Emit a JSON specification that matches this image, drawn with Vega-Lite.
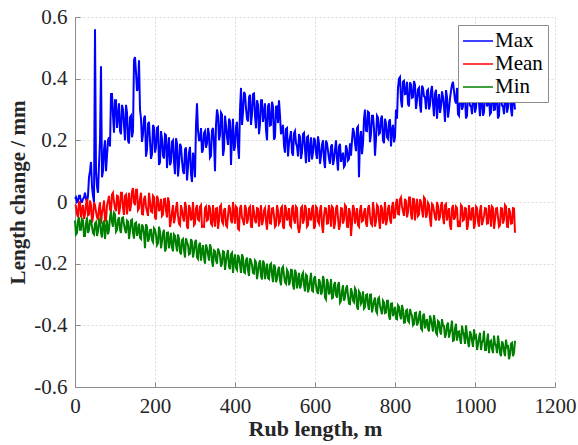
{
  "$schema": "https://vega.github.io/schema/vega-lite/v6.json",
  "autosize": "none",
  "width": 480,
  "height": 370,
  "padding": {"left": 75, "top": 17, "right": 23, "bottom": 58},
  "background": "white",
  "config": {
    "view": {"stroke": null},
    "font": "Liberation Serif",
    "axis": {
      "labelFont": "Liberation Serif",
      "titleFont": "Liberation Serif",
      "labelFontSize": 21,
      "titleFontSize": 22,
      "titleFontWeight": "bold",
      "labelColor": "#262626",
      "titleColor": "#262626",
      "domainColor": "#8c8c8c",
      "tickColor": "#8c8c8c",
      "gridColor": "#dadada",
      "gridDash": [2, 2],
      "gridWidth": 1
    }
  },
  "data": {"values": [
    {"x":0,"Max":0.01,"Mean":-0.01,"Min":-0.06},
    {"x":5,"Max":0.0,"Mean":-0.04,"Min":-0.1},
    {"x":10,"Max":0.02,"Mean":0.0,"Min":-0.05},
    {"x":15,"Max":0.0,"Mean":-0.05,"Min":-0.09},
    {"x":20,"Max":0.01,"Mean":-0.01,"Min":-0.06},
    {"x":25,"Max":0.03,"Mean":-0.04,"Min":-0.11},
    {"x":30,"Max":0.0,"Mean":0.01,"Min":-0.05},
    {"x":35,"Max":0.08,"Mean":-0.04,"Min":-0.09},
    {"x":40,"Max":0.13,"Mean":-0.01,"Min":-0.06},
    {"x":45,"Max":0.02,"Mean":-0.05,"Min":-0.1},
    {"x":50,"Max":0.56,"Mean":-0.01,"Min":-0.07},
    {"x":55,"Max":0.05,"Mean":-0.05,"Min":-0.11},
    {"x":60,"Max":0.12,"Mean":-0.02,"Min":-0.06},
    {"x":65,"Max":0.44,"Mean":-0.07,"Min":-0.1},
    {"x":70,"Max":0.1,"Mean":-0.02,"Min":-0.07},
    {"x":75,"Max":0.2,"Mean":-0.06,"Min":-0.12},
    {"x":80,"Max":0.15,"Mean":-0.01,"Min":-0.06},
    {"x":85,"Max":0.21,"Mean":0.02,"Min":-0.09},
    {"x":90,"Max":0.35,"Mean":-0.03,"Min":-0.03},
    {"x":95,"Max":0.28,"Mean":0.03,"Min":-0.08},
    {"x":100,"Max":0.33,"Mean":-0.02,"Min":-0.04},
    {"x":105,"Max":0.24,"Mean":0.02,"Min":-0.09},
    {"x":110,"Max":0.32,"Mean":-0.04,"Min":-0.05},
    {"x":115,"Max":0.22,"Mean":0.03,"Min":-0.1},
    {"x":120,"Max":0.3,"Mean":-0.02,"Min":-0.05},
    {"x":125,"Max":0.2,"Mean":0.02,"Min":-0.09},
    {"x":130,"Max":0.29,"Mean":-0.04,"Min":-0.06},
    {"x":135,"Max":0.19,"Mean":0.03,"Min":-0.12},
    {"x":140,"Max":0.28,"Mean":-0.01,"Min":-0.06},
    {"x":145,"Max":0.23,"Mean":0.045,"Min":-0.1},
    {"x":150,"Max":0.47,"Mean":-0.01,"Min":-0.07},
    {"x":155,"Max":0.36,"Mean":0.04,"Min":-0.11},
    {"x":160,"Max":0.46,"Mean":-0.02,"Min":-0.07},
    {"x":165,"Max":0.27,"Mean":0.03,"Min":-0.12},
    {"x":170,"Max":0.22,"Mean":-0.04,"Min":-0.08},
    {"x":175,"Max":0.28,"Mean":0.02,"Min":-0.15},
    {"x":180,"Max":0.17,"Mean":-0.03,"Min":-0.08},
    {"x":185,"Max":0.26,"Mean":0.03,"Min":-0.12},
    {"x":190,"Max":0.14,"Mean":-0.03,"Min":-0.09},
    {"x":195,"Max":0.25,"Mean":0.02,"Min":-0.13},
    {"x":200,"Max":0.16,"Mean":-0.05,"Min":-0.09},
    {"x":205,"Max":0.24,"Mean":0.02,"Min":-0.14},
    {"x":210,"Max":0.12,"Mean":-0.03,"Min":-0.08},
    {"x":215,"Max":0.23,"Mean":0.01,"Min":-0.15},
    {"x":220,"Max":0.15,"Mean":-0.04,"Min":-0.1},
    {"x":225,"Max":0.22,"Mean":0.01,"Min":-0.16},
    {"x":230,"Max":0.11,"Mean":-0.05,"Min":-0.1},
    {"x":235,"Max":0.21,"Mean":0.0,"Min":-0.15},
    {"x":240,"Max":0.13,"Mean":-0.06,"Min":-0.1},
    {"x":245,"Max":0.2,"Mean":-0.01,"Min":-0.16},
    {"x":250,"Max":0.09,"Mean":-0.05,"Min":-0.11},
    {"x":255,"Max":0.19,"Mean":0.0,"Min":-0.16},
    {"x":260,"Max":0.12,"Mean":-0.07,"Min":-0.12},
    {"x":265,"Max":0.18,"Mean":-0.01,"Min":-0.17},
    {"x":270,"Max":0.1,"Mean":-0.05,"Min":-0.12},
    {"x":275,"Max":0.17,"Mean":0.0,"Min":-0.18},
    {"x":280,"Max":0.07,"Mean":-0.08,"Min":-0.13},
    {"x":285,"Max":0.16,"Mean":-0.01,"Min":-0.17},
    {"x":290,"Max":0.09,"Mean":-0.06,"Min":-0.12},
    {"x":295,"Max":0.16,"Mean":0.0,"Min":-0.18},
    {"x":300,"Max":0.08,"Mean":-0.07,"Min":-0.13},
    {"x":305,"Max":0.32,"Mean":-0.01,"Min":-0.18},
    {"x":310,"Max":0.2,"Mean":-0.06,"Min":-0.14},
    {"x":315,"Max":0.24,"Mean":-0.01,"Min":-0.19},
    {"x":320,"Max":0.17,"Mean":-0.08,"Min":-0.14},
    {"x":325,"Max":0.23,"Mean":-0.02,"Min":-0.2},
    {"x":330,"Max":0.19,"Mean":-0.06,"Min":-0.15},
    {"x":335,"Max":0.22,"Mean":-0.01,"Min":-0.19},
    {"x":340,"Max":0.15,"Mean":-0.07,"Min":-0.15},
    {"x":345,"Max":0.24,"Mean":-0.01,"Min":-0.21},
    {"x":350,"Max":0.1,"Mean":-0.08,"Min":-0.16},
    {"x":355,"Max":0.3,"Mean":-0.02,"Min":-0.2},
    {"x":360,"Max":0.2,"Mean":-0.06,"Min":-0.16},
    {"x":365,"Max":0.29,"Mean":-0.01,"Min":-0.21},
    {"x":370,"Max":0.15,"Mean":-0.07,"Min":-0.16},
    {"x":375,"Max":0.28,"Mean":-0.02,"Min":-0.22},
    {"x":380,"Max":0.21,"Mean":-0.08,"Min":-0.17},
    {"x":385,"Max":0.27,"Mean":-0.01,"Min":-0.21},
    {"x":390,"Max":0.12,"Mean":-0.06,"Min":-0.17},
    {"x":395,"Max":0.27,"Mean":0.0,"Min":-0.23},
    {"x":400,"Max":0.18,"Mean":-0.07,"Min":-0.17},
    {"x":405,"Max":0.26,"Mean":-0.02,"Min":-0.22},
    {"x":410,"Max":0.14,"Mean":-0.09,"Min":-0.18},
    {"x":415,"Max":0.37,"Mean":-0.01,"Min":-0.23},
    {"x":420,"Max":0.29,"Mean":-0.06,"Min":-0.18},
    {"x":425,"Max":0.35,"Mean":-0.01,"Min":-0.23},
    {"x":430,"Max":0.27,"Mean":-0.07,"Min":-0.18},
    {"x":435,"Max":0.34,"Mean":-0.02,"Min":-0.24},
    {"x":440,"Max":0.25,"Mean":-0.08,"Min":-0.19},
    {"x":445,"Max":0.35,"Mean":-0.01,"Min":-0.23},
    {"x":450,"Max":0.28,"Mean":-0.06,"Min":-0.19},
    {"x":455,"Max":0.33,"Mean":-0.02,"Min":-0.25},
    {"x":460,"Max":0.22,"Mean":-0.08,"Min":-0.2},
    {"x":465,"Max":0.33,"Mean":-0.01,"Min":-0.24},
    {"x":470,"Max":0.26,"Mean":-0.06,"Min":-0.19},
    {"x":475,"Max":0.32,"Mean":-0.02,"Min":-0.25},
    {"x":480,"Max":0.2,"Mean":-0.09,"Min":-0.2},
    {"x":485,"Max":0.32,"Mean":-0.01,"Min":-0.25},
    {"x":490,"Max":0.25,"Mean":-0.07,"Min":-0.2},
    {"x":495,"Max":0.31,"Mean":-0.02,"Min":-0.26},
    {"x":500,"Max":0.21,"Mean":-0.08,"Min":-0.21},
    {"x":505,"Max":0.31,"Mean":-0.01,"Min":-0.25},
    {"x":510,"Max":0.33,"Mean":-0.07,"Min":-0.21},
    {"x":515,"Max":0.22,"Mean":-0.02,"Min":-0.27},
    {"x":520,"Max":0.25,"Mean":-0.08,"Min":-0.21},
    {"x":525,"Max":0.16,"Mean":-0.01,"Min":-0.26},
    {"x":530,"Max":0.24,"Mean":-0.06,"Min":-0.22},
    {"x":535,"Max":0.19,"Mean":-0.02,"Min":-0.27},
    {"x":540,"Max":0.23,"Mean":-0.08,"Min":-0.22},
    {"x":545,"Max":0.15,"Mean":-0.01,"Min":-0.27},
    {"x":550,"Max":0.23,"Mean":-0.07,"Min":-0.22},
    {"x":555,"Max":0.18,"Mean":-0.02,"Min":-0.28},
    {"x":560,"Max":0.22,"Mean":-0.1,"Min":-0.23},
    {"x":565,"Max":0.14,"Mean":-0.02,"Min":-0.27},
    {"x":570,"Max":0.22,"Mean":-0.07,"Min":-0.23},
    {"x":575,"Max":0.17,"Mean":-0.01,"Min":-0.29},
    {"x":580,"Max":0.21,"Mean":-0.08,"Min":-0.24},
    {"x":585,"Max":0.13,"Mean":-0.02,"Min":-0.28},
    {"x":590,"Max":0.21,"Mean":-0.06,"Min":-0.23},
    {"x":595,"Max":0.16,"Mean":-0.01,"Min":-0.29},
    {"x":600,"Max":0.2,"Mean":-0.08,"Min":-0.24},
    {"x":605,"Max":0.14,"Mean":-0.02,"Min":-0.29},
    {"x":610,"Max":0.19,"Mean":-0.07,"Min":-0.25},
    {"x":615,"Max":0.15,"Mean":-0.01,"Min":-0.3},
    {"x":620,"Max":0.2,"Mean":-0.1,"Min":-0.24},
    {"x":625,"Max":0.11,"Mean":-0.02,"Min":-0.31},
    {"x":630,"Max":0.19,"Mean":-0.07,"Min":-0.25},
    {"x":635,"Max":0.14,"Mean":-0.01,"Min":-0.3},
    {"x":640,"Max":0.18,"Mean":-0.08,"Min":-0.25},
    {"x":645,"Max":0.12,"Mean":-0.02,"Min":-0.31},
    {"x":650,"Max":0.17,"Mean":-0.07,"Min":-0.26},
    {"x":655,"Max":0.14,"Mean":-0.01,"Min":-0.31},
    {"x":660,"Max":0.18,"Mean":-0.09,"Min":-0.26},
    {"x":665,"Max":0.13,"Mean":-0.02,"Min":-0.32},
    {"x":670,"Max":0.16,"Mean":-0.07,"Min":-0.27},
    {"x":675,"Max":0.12,"Mean":-0.01,"Min":-0.31},
    {"x":680,"Max":0.17,"Mean":-0.08,"Min":-0.27},
    {"x":685,"Max":0.14,"Mean":-0.02,"Min":-0.33},
    {"x":690,"Max":0.15,"Mean":-0.11,"Min":-0.28},
    {"x":695,"Max":0.24,"Mean":-0.01,"Min":-0.32},
    {"x":700,"Max":0.19,"Mean":-0.07,"Min":-0.28},
    {"x":705,"Max":0.24,"Mean":-0.02,"Min":-0.34},
    {"x":710,"Max":0.08,"Mean":-0.08,"Min":-0.29},
    {"x":715,"Max":0.23,"Mean":-0.01,"Min":-0.33},
    {"x":720,"Max":0.19,"Mean":-0.06,"Min":-0.29},
    {"x":725,"Max":0.3,"Mean":-0.02,"Min":-0.34},
    {"x":730,"Max":0.23,"Mean":-0.08,"Min":-0.3},
    {"x":735,"Max":0.29,"Mean":-0.01,"Min":-0.35},
    {"x":740,"Max":0.22,"Mean":-0.07,"Min":-0.3},
    {"x":745,"Max":0.28,"Mean":0.0,"Min":-0.34},
    {"x":750,"Max":0.15,"Mean":-0.08,"Min":-0.31},
    {"x":755,"Max":0.28,"Mean":-0.01,"Min":-0.36},
    {"x":760,"Max":0.22,"Mean":-0.06,"Min":-0.31},
    {"x":765,"Max":0.27,"Mean":-0.01,"Min":-0.35},
    {"x":770,"Max":0.2,"Mean":-0.07,"Min":-0.32},
    {"x":775,"Max":0.27,"Mean":0.0,"Min":-0.36},
    {"x":780,"Max":0.21,"Mean":-0.06,"Min":-0.32},
    {"x":785,"Max":0.26,"Mean":-0.01,"Min":-0.37},
    {"x":790,"Max":0.18,"Mean":-0.07,"Min":-0.33},
    {"x":795,"Max":0.25,"Mean":0.0,"Min":-0.37},
    {"x":800,"Max":0.21,"Mean":-0.05,"Min":-0.34},
    {"x":805,"Max":0.27,"Mean":0.01,"Min":-0.38},
    {"x":810,"Max":0.4,"Mean":-0.04,"Min":-0.34},
    {"x":815,"Max":0.33,"Mean":0.015,"Min":-0.38},
    {"x":820,"Max":0.39,"Mean":-0.03,"Min":-0.35},
    {"x":825,"Max":0.35,"Mean":0.01,"Min":-0.39},
    {"x":830,"Max":0.39,"Mean":-0.05,"Min":-0.35},
    {"x":835,"Max":0.31,"Mean":0.015,"Min":-0.39},
    {"x":840,"Max":0.38,"Mean":-0.04,"Min":-0.36},
    {"x":845,"Max":0.34,"Mean":0.01,"Min":-0.4},
    {"x":850,"Max":0.38,"Mean":-0.06,"Min":-0.36},
    {"x":855,"Max":0.33,"Mean":0.01,"Min":-0.4},
    {"x":860,"Max":0.37,"Mean":-0.04,"Min":-0.37},
    {"x":865,"Max":0.29,"Mean":0.0,"Min":-0.41},
    {"x":870,"Max":0.37,"Mean":-0.05,"Min":-0.37},
    {"x":875,"Max":0.34,"Mean":0.01,"Min":-0.41},
    {"x":880,"Max":0.36,"Mean":-0.04,"Min":-0.38},
    {"x":885,"Max":0.3,"Mean":-0.01,"Min":-0.42},
    {"x":890,"Max":0.36,"Mean":-0.08,"Min":-0.38},
    {"x":895,"Max":0.32,"Mean":-0.01,"Min":-0.42},
    {"x":900,"Max":0.35,"Mean":-0.05,"Min":-0.39},
    {"x":905,"Max":0.27,"Mean":0.0,"Min":-0.43},
    {"x":910,"Max":0.35,"Mean":-0.06,"Min":-0.39},
    {"x":915,"Max":0.31,"Mean":-0.01,"Min":-0.43},
    {"x":920,"Max":0.34,"Mean":-0.05,"Min":-0.4},
    {"x":925,"Max":0.26,"Mean":-0.01,"Min":-0.44},
    {"x":930,"Max":0.34,"Mean":-0.06,"Min":-0.4},
    {"x":935,"Max":0.3,"Mean":-0.02,"Min":-0.44},
    {"x":940,"Max":0.36,"Mean":-0.09,"Min":-0.41},
    {"x":945,"Max":0.39,"Mean":-0.01,"Min":-0.45},
    {"x":950,"Max":0.33,"Mean":-0.05,"Min":-0.41},
    {"x":955,"Max":0.37,"Mean":-0.02,"Min":-0.45},
    {"x":960,"Max":0.28,"Mean":-0.07,"Min":-0.42},
    {"x":965,"Max":0.35,"Mean":-0.01,"Min":-0.46},
    {"x":970,"Max":0.31,"Mean":-0.06,"Min":-0.42},
    {"x":975,"Max":0.34,"Mean":-0.02,"Min":-0.46},
    {"x":980,"Max":0.28,"Mean":-0.09,"Min":-0.43},
    {"x":985,"Max":0.35,"Mean":-0.01,"Min":-0.47},
    {"x":990,"Max":0.31,"Mean":-0.06,"Min":-0.43},
    {"x":995,"Max":0.34,"Mean":-0.02,"Min":-0.47},
    {"x":1000,"Max":0.29,"Mean":-0.07,"Min":-0.44},
    {"x":1005,"Max":0.35,"Mean":-0.02,"Min":-0.48},
    {"x":1010,"Max":0.32,"Mean":-0.08,"Min":-0.44},
    {"x":1015,"Max":0.34,"Mean":-0.01,"Min":-0.48},
    {"x":1020,"Max":0.28,"Mean":-0.06,"Min":-0.45},
    {"x":1025,"Max":0.35,"Mean":-0.02,"Min":-0.48},
    {"x":1030,"Max":0.31,"Mean":-0.07,"Min":-0.45},
    {"x":1035,"Max":0.34,"Mean":-0.01,"Min":-0.49},
    {"x":1040,"Max":0.29,"Mean":-0.08,"Min":-0.45},
    {"x":1045,"Max":0.35,"Mean":-0.02,"Min":-0.49},
    {"x":1050,"Max":0.3,"Mean":-0.06,"Min":-0.46},
    {"x":1055,"Max":0.34,"Mean":-0.02,"Min":-0.49},
    {"x":1060,"Max":0.28,"Mean":-0.08,"Min":-0.46},
    {"x":1065,"Max":0.35,"Mean":-0.02,"Min":-0.5},
    {"x":1070,"Max":0.31,"Mean":-0.07,"Min":-0.46},
    {"x":1075,"Max":0.34,"Mean":-0.01,"Min":-0.5},
    {"x":1080,"Max":0.29,"Mean":-0.08,"Min":-0.47},
    {"x":1085,"Max":0.35,"Mean":-0.02,"Min":-0.51},
    {"x":1090,"Max":0.3,"Mean":-0.07,"Min":-0.46},
    {"x":1095,"Max":0.34,"Mean":-0.02,"Min":-0.5},
    {"x":1100,"Max":0.3,"Mean":-0.1,"Min":-0.45},
    {"x":2.5,"Max":0.015,"Mean":-0.013,"Min":-0.105},
    {"x":7.5,"Max":0.005,"Mean":-0.049,"Min":-0.06},
    {"x":12.5,"Max":0.02,"Mean":-0.001,"Min":-0.09},
    {"x":17.5,"Max":0.0,"Mean":-0.025,"Min":-0.055},
    {"x":22.5,"Max":0.015,"Mean":-0.055,"Min":-0.11},
    {"x":27.5,"Max":0.01,"Mean":-0.007,"Min":-0.07},
    {"x":32.5,"Max":0.02,"Mean":-0.043,"Min":-0.1},
    {"x":37.5,"Max":0.1,"Mean":0.005,"Min":-0.06},
    {"x":42.5,"Max":0.05,"Mean":-0.067,"Min":-0.08},
    {"x":47.5,"Max":0.0,"Mean":-0.001,"Min":-0.105},
    {"x":52.5,"Max":0.1,"Mean":-0.031,"Min":-0.065},
    {"x":57.5,"Max":0.03,"Mean":-0.055,"Min":-0.095},
    {"x":62.5,"Max":0.2,"Mean":-0.001,"Min":-0.055},
    {"x":67.5,"Max":0.08,"Mean":-0.037,"Min":-0.115},
    {"x":72.5,"Max":0.17,"Mean":0.005,"Min":-0.06},
    {"x":77.5,"Max":0.1,"Mean":-0.061,"Min":-0.085},
    {"x":82.5,"Max":0.2,"Mean":0.002,"Min":-0.105},
    {"x":87.5,"Max":0.18,"Mean":-0.024,"Min":-0.05},
    {"x":92.5,"Max":0.35,"Mean":0.024,"Min":-0.065},
    {"x":97.5,"Max":0.225,"Mean":0.0,"Min":-0.035},
    {"x":102.5,"Max":0.33,"Mean":-0.03,"Min":-0.096},
    {"x":107.5,"Max":0.275,"Mean":0.018,"Min":-0.058},
    {"x":112.5,"Max":0.23,"Mean":-0.018,"Min":-0.09},
    {"x":117.5,"Max":0.315,"Mean":0.03,"Min":-0.052},
    {"x":122.5,"Max":0.25,"Mean":-0.042,"Min":-0.074},
    {"x":127.5,"Max":0.315,"Mean":0.024,"Min":-0.101},
    {"x":132.5,"Max":0.2,"Mean":-0.006,"Min":-0.063},
    {"x":137.5,"Max":0.275,"Mean":-0.03,"Min":-0.095},
    {"x":142.5,"Max":0.21,"Mean":0.034,"Min":-0.057},
    {"x":147.5,"Max":0.46,"Mean":-0.002,"Min":-0.119},
    {"x":152.5,"Max":0.42,"Mean":0.04,"Min":-0.067},
    {"x":157.5,"Max":0.37,"Mean":-0.026,"Min":-0.094},
    {"x":162.5,"Max":0.3,"Mean":0.012,"Min":-0.116},
    {"x":167.5,"Max":0.195,"Mean":-0.039,"Min":-0.073},
    {"x":172.5,"Max":0.271,"Mean":0.009,"Min":-0.105},
    {"x":177.5,"Max":0.147,"Mean":-0.015,"Min":-0.072},
    {"x":182.5,"Max":0.253,"Mean":-0.045,"Min":-0.129},
    {"x":187.5,"Max":0.199,"Mean":0.003,"Min":-0.091},
    {"x":192.5,"Max":0.155,"Mean":-0.033,"Min":-0.123},
    {"x":197.5,"Max":0.241,"Mean":0.015,"Min":-0.085},
    {"x":202.5,"Max":0.177,"Mean":-0.057,"Min":-0.107},
    {"x":207.5,"Max":0.243,"Mean":0.009,"Min":-0.134},
    {"x":212.5,"Max":0.129,"Mean":-0.021,"Min":-0.096},
    {"x":217.5,"Max":0.205,"Mean":-0.045,"Min":-0.128},
    {"x":222.5,"Max":0.141,"Mean":0.009,"Min":-0.09},
    {"x":227.5,"Max":0.217,"Mean":-0.027,"Min":-0.152},
    {"x":232.5,"Max":0.173,"Mean":0.015,"Min":-0.099},
    {"x":237.5,"Max":0.119,"Mean":-0.081,"Min":-0.126},
    {"x":242.5,"Max":0.195,"Mean":-0.033,"Min":-0.148},
    {"x":247.5,"Max":0.131,"Mean":-0.069,"Min":-0.105},
    {"x":252.5,"Max":0.207,"Mean":-0.021,"Min":-0.138},
    {"x":257.5,"Max":0.083,"Mean":-0.045,"Min":-0.105},
    {"x":262.5,"Max":0.189,"Mean":-0.075,"Min":-0.162},
    {"x":267.5,"Max":0.135,"Mean":-0.027,"Min":-0.124},
    {"x":272.5,"Max":0.091,"Mean":-0.063,"Min":-0.156},
    {"x":277.5,"Max":0.177,"Mean":-0.015,"Min":-0.118},
    {"x":282.5,"Max":0.113,"Mean":-0.087,"Min":-0.14},
    {"x":287.5,"Max":0.179,"Mean":-0.021,"Min":-0.167},
    {"x":292.5,"Max":0.065,"Mean":-0.051,"Min":-0.129},
    {"x":297.5,"Max":0.141,"Mean":-0.075,"Min":-0.161},
    {"x":302.5,"Max":0.25,"Mean":-0.021,"Min":-0.123},
    {"x":307.5,"Max":0.232,"Mean":-0.057,"Min":-0.185},
    {"x":312.5,"Max":0.2,"Mean":-0.015,"Min":-0.132},
    {"x":317.5,"Max":0.16,"Mean":-0.081,"Min":-0.159},
    {"x":322.5,"Max":0.224,"Mean":-0.081,"Min":-0.181},
    {"x":327.5,"Max":0.176,"Mean":-0.015,"Min":-0.138},
    {"x":332.5,"Max":0.24,"Mean":-0.057,"Min":-0.17},
    {"x":337.5,"Max":0.144,"Mean":-0.021,"Min":-0.137},
    {"x":342.5,"Max":0.232,"Mean":-0.075,"Min":-0.194},
    {"x":347.5,"Max":0.192,"Mean":-0.051,"Min":-0.157},
    {"x":352.5,"Max":0.25,"Mean":-0.021,"Min":-0.189},
    {"x":357.5,"Max":0.28,"Mean":-0.087,"Min":-0.151},
    {"x":362.5,"Max":0.217,"Mean":-0.015,"Min":-0.173},
    {"x":367.5,"Max":0.284,"Mean":-0.063,"Min":-0.2},
    {"x":372.5,"Max":0.171,"Mean":-0.027,"Min":-0.162},
    {"x":377.5,"Max":0.248,"Mean":-0.075,"Min":-0.194},
    {"x":382.5,"Max":0.185,"Mean":-0.045,"Min":-0.156},
    {"x":387.5,"Max":0.262,"Mean":-0.021,"Min":-0.218},
    {"x":392.5,"Max":0.219,"Mean":-0.069,"Min":-0.165},
    {"x":397.5,"Max":0.166,"Mean":-0.033,"Min":-0.192},
    {"x":402.5,"Max":0.243,"Mean":-0.015,"Min":-0.214},
    {"x":407.5,"Max":0.18,"Mean":-0.087,"Min":-0.171},
    {"x":412.5,"Max":0.3,"Mean":-0.021,"Min":-0.203},
    {"x":417.5,"Max":0.25,"Mean":-0.051,"Min":-0.17},
    {"x":422.5,"Max":0.357,"Mean":-0.075,"Min":-0.227},
    {"x":427.5,"Max":0.304,"Mean":-0.021,"Min":-0.189},
    {"x":432.5,"Max":0.261,"Mean":-0.057,"Min":-0.221},
    {"x":437.5,"Max":0.348,"Mean":-0.015,"Min":-0.183},
    {"x":442.5,"Max":0.285,"Mean":-0.081,"Min":-0.205},
    {"x":447.5,"Max":0.352,"Mean":-0.033,"Min":-0.232},
    {"x":452.5,"Max":0.239,"Mean":-0.069,"Min":-0.195},
    {"x":457.5,"Max":0.316,"Mean":-0.021,"Min":-0.227},
    {"x":462.5,"Max":0.253,"Mean":-0.045,"Min":-0.189},
    {"x":467.5,"Max":0.33,"Mean":-0.075,"Min":-0.251},
    {"x":472.5,"Max":0.287,"Mean":-0.027,"Min":-0.198},
    {"x":477.5,"Max":0.234,"Mean":-0.063,"Min":-0.225},
    {"x":482.5,"Max":0.311,"Mean":-0.033,"Min":-0.247},
    {"x":487.5,"Max":0.248,"Mean":-0.069,"Min":-0.204},
    {"x":492.5,"Max":0.325,"Mean":-0.021,"Min":-0.236},
    {"x":497.5,"Max":0.202,"Mean":-0.045,"Min":-0.203},
    {"x":502.5,"Max":0.309,"Mean":-0.075,"Min":-0.26},
    {"x":507.5,"Max":0.256,"Mean":-0.027,"Min":-0.222},
    {"x":512.5,"Max":0.28,"Mean":-0.063,"Min":-0.254},
    {"x":517.5,"Max":0.232,"Mean":-0.015,"Min":-0.216},
    {"x":522.5,"Max":0.182,"Mean":-0.087,"Min":-0.238},
    {"x":527.5,"Max":0.237,"Mean":-0.021,"Min":-0.265},
    {"x":532.5,"Max":0.148,"Mean":-0.051,"Min":-0.227},
    {"x":537.5,"Max":0.21,"Mean":-0.075,"Min":-0.259},
    {"x":542.5,"Max":0.161,"Mean":-0.021,"Min":-0.221},
    {"x":547.5,"Max":0.223,"Mean":-0.057,"Min":-0.284},
    {"x":552.5,"Max":0.19,"Mean":-0.015,"Min":-0.231},
    {"x":557.5,"Max":0.148,"Mean":-0.081,"Min":-0.258},
    {"x":562.5,"Max":0.211,"Mean":-0.081,"Min":-0.28},
    {"x":567.5,"Max":0.161,"Mean":-0.015,"Min":-0.237},
    {"x":572.5,"Max":0.224,"Mean":-0.057,"Min":-0.269},
    {"x":577.5,"Max":0.126,"Mean":-0.021,"Min":-0.236},
    {"x":582.5,"Max":0.213,"Mean":-0.075,"Min":-0.293},
    {"x":587.5,"Max":0.171,"Mean":-0.051,"Min":-0.255},
    {"x":592.5,"Max":0.138,"Mean":-0.021,"Min":-0.287},
    {"x":597.5,"Max":0.208,"Mean":-0.087,"Min":-0.249},
    {"x":602.5,"Max":0.159,"Mean":-0.015,"Min":-0.271},
    {"x":607.5,"Max":0.213,"Mean":-0.063,"Min":-0.298},
    {"x":612.5,"Max":0.124,"Mean":-0.027,"Min":-0.26},
    {"x":617.5,"Max":0.186,"Mean":-0.075,"Min":-0.292},
    {"x":622.5,"Max":0.137,"Mean":-0.045,"Min":-0.254},
    {"x":627.5,"Max":0.199,"Mean":-0.021,"Min":-0.316},
    {"x":632.5,"Max":0.166,"Mean":-0.069,"Min":-0.263},
    {"x":637.5,"Max":0.124,"Mean":-0.033,"Min":-0.29},
    {"x":642.5,"Max":0.187,"Mean":-0.015,"Min":-0.312},
    {"x":647.5,"Max":0.137,"Mean":-0.087,"Min":-0.269},
    {"x":652.5,"Max":0.2,"Mean":-0.021,"Min":-0.302},
    {"x":657.5,"Max":0.102,"Mean":-0.051,"Min":-0.269},
    {"x":662.5,"Max":0.189,"Mean":-0.075,"Min":-0.326},
    {"x":667.5,"Max":0.147,"Mean":-0.021,"Min":-0.288},
    {"x":672.5,"Max":0.114,"Mean":-0.057,"Min":-0.32},
    {"x":677.5,"Max":0.184,"Mean":-0.015,"Min":-0.282},
    {"x":682.5,"Max":0.135,"Mean":-0.081,"Min":-0.304},
    {"x":687.5,"Max":0.19,"Mean":-0.033,"Min":-0.331},
    {"x":692.5,"Max":0.2,"Mean":-0.069,"Min":-0.293},
    {"x":697.5,"Max":0.225,"Mean":-0.021,"Min":-0.325},
    {"x":702.5,"Max":0.165,"Mean":-0.045,"Min":-0.287},
    {"x":707.5,"Max":0.245,"Mean":-0.075,"Min":-0.349},
    {"x":712.5,"Max":0.205,"Mean":-0.027,"Min":-0.296},
    {"x":717.5,"Max":0.155,"Mean":-0.063,"Min":-0.323},
    {"x":722.5,"Max":0.27,"Mean":-0.033,"Min":-0.345},
    {"x":727.5,"Max":0.231,"Mean":-0.069,"Min":-0.302},
    {"x":732.5,"Max":0.293,"Mean":-0.021,"Min":-0.334},
    {"x":737.5,"Max":0.194,"Mean":-0.045,"Min":-0.301},
    {"x":742.5,"Max":0.28,"Mean":-0.075,"Min":-0.358},
    {"x":747.5,"Max":0.238,"Mean":-0.027,"Min":-0.321},
    {"x":752.5,"Max":0.204,"Mean":-0.063,"Min":-0.353},
    {"x":757.5,"Max":0.274,"Mean":-0.015,"Min":-0.315},
    {"x":762.5,"Max":0.224,"Mean":-0.087,"Min":-0.337},
    {"x":767.5,"Max":0.28,"Mean":-0.021,"Min":-0.364},
    {"x":772.5,"Max":0.191,"Mean":-0.051,"Min":-0.326},
    {"x":777.5,"Max":0.254,"Mean":-0.075,"Min":-0.358},
    {"x":782.5,"Max":0.205,"Mean":-0.021,"Min":-0.32},
    {"x":787.5,"Max":0.268,"Mean":-0.057,"Min":-0.382},
    {"x":792.5,"Max":0.235,"Mean":-0.015,"Min":-0.329},
    {"x":797.5,"Max":0.194,"Mean":-0.051,"Min":-0.356},
    {"x":802.5,"Max":0.3,"Mean":-0.003,"Min":-0.378},
    {"x":807.5,"Max":0.37,"Mean":-0.039,"Min":-0.335},
    {"x":812.5,"Max":0.405,"Mean":0.009,"Min":-0.367},
    {"x":817.5,"Max":0.307,"Mean":-0.015,"Min":-0.334},
    {"x":822.5,"Max":0.393,"Mean":-0.045,"Min":-0.391},
    {"x":827.5,"Max":0.351,"Mean":0.003,"Min":-0.353},
    {"x":832.5,"Max":0.318,"Mean":-0.033,"Min":-0.385},
    {"x":837.5,"Max":0.388,"Mean":0.015,"Min":-0.347},
    {"x":842.5,"Max":0.338,"Mean":-0.057,"Min":-0.369},
    {"x":847.5,"Max":0.392,"Mean":0.009,"Min":-0.396},
    {"x":852.5,"Max":0.302,"Mean":-0.021,"Min":-0.359},
    {"x":857.5,"Max":0.365,"Mean":-0.045,"Min":-0.391},
    {"x":862.5,"Max":0.315,"Mean":0.009,"Min":-0.353},
    {"x":867.5,"Max":0.377,"Mean":-0.027,"Min":-0.415},
    {"x":872.5,"Max":0.343,"Mean":0.015,"Min":-0.362},
    {"x":877.5,"Max":0.301,"Mean":-0.051,"Min":-0.389},
    {"x":882.5,"Max":0.364,"Mean":-0.003,"Min":-0.411},
    {"x":887.5,"Max":0.314,"Mean":-0.054,"Min":-0.368},
    {"x":892.5,"Max":0.376,"Mean":-0.006,"Min":-0.4},
    {"x":897.5,"Max":0.278,"Mean":-0.03,"Min":-0.367},
    {"x":902.5,"Max":0.364,"Mean":-0.06,"Min":-0.424},
    {"x":907.5,"Max":0.323,"Mean":-0.012,"Min":-0.386},
    {"x":912.5,"Max":0.289,"Mean":-0.048,"Min":-0.418},
    {"x":917.5,"Max":0.359,"Mean":0.0,"Min":-0.38},
    {"x":922.5,"Max":0.309,"Mean":-0.072,"Min":-0.402},
    {"x":927.5,"Max":0.363,"Mean":-0.006,"Min":-0.429},
    {"x":932.5,"Max":0.274,"Mean":-0.036,"Min":-0.391},
    {"x":937.5,"Max":0.336,"Mean":-0.075,"Min":-0.423},
    {"x":942.5,"Max":0.38,"Mean":-0.021,"Min":-0.385},
    {"x":947.5,"Max":0.36,"Mean":-0.057,"Min":-0.448},
    {"x":952.5,"Max":0.32,"Mean":-0.015,"Min":-0.395},
    {"x":957.5,"Max":0.285,"Mean":-0.081,"Min":-0.422},
    {"x":962.5,"Max":0.341,"Mean":-0.081,"Min":-0.444},
    {"x":967.5,"Max":0.299,"Mean":-0.015,"Min":-0.401},
    {"x":972.5,"Max":0.355,"Mean":-0.057,"Min":-0.433},
    {"x":977.5,"Max":0.271,"Mean":-0.021,"Min":-0.4},
    {"x":982.5,"Max":0.348,"Mean":-0.075,"Min":-0.457},
    {"x":987.5,"Max":0.313,"Mean":-0.051,"Min":-0.419},
    {"x":992.5,"Max":0.285,"Mean":-0.021,"Min":-0.451},
    {"x":997.5,"Max":0.348,"Mean":-0.087,"Min":-0.413},
    {"x":1002.5,"Max":0.306,"Mean":-0.015,"Min":-0.435},
    {"x":1007.5,"Max":0.355,"Mean":-0.063,"Min":-0.462},
    {"x":1012.5,"Max":0.278,"Mean":-0.027,"Min":-0.424},
    {"x":1017.5,"Max":0.334,"Mean":-0.075,"Min":-0.456},
    {"x":1022.5,"Max":0.292,"Mean":-0.045,"Min":-0.418},
    {"x":1027.5,"Max":0.348,"Mean":-0.021,"Min":-0.48},
    {"x":1032.5,"Max":0.32,"Mean":-0.069,"Min":-0.427},
    {"x":1037.5,"Max":0.285,"Mean":-0.033,"Min":-0.454},
    {"x":1042.5,"Max":0.341,"Mean":-0.015,"Min":-0.476},
    {"x":1047.5,"Max":0.299,"Mean":-0.087,"Min":-0.433},
    {"x":1052.5,"Max":0.355,"Mean":-0.021,"Min":-0.466},
    {"x":1057.5,"Max":0.271,"Mean":-0.051,"Min":-0.433},
    {"x":1062.5,"Max":0.348,"Mean":-0.075,"Min":-0.49},
    {"x":1067.5,"Max":0.313,"Mean":-0.021,"Min":-0.452},
    {"x":1072.5,"Max":0.285,"Mean":-0.057,"Min":-0.484},
    {"x":1077.5,"Max":0.348,"Mean":-0.015,"Min":-0.446},
    {"x":1082.5,"Max":0.306,"Mean":-0.081,"Min":-0.468},
    {"x":1087.5,"Max":0.355,"Mean":-0.033,"Min":-0.495},
    {"x":1092.5,"Max":0.278,"Mean":-0.069,"Min":-0.457},
    {"x":1097.5,"Max":0.334,"Mean":-0.021,"Min":-0.489}
  ]},
  "transform": [{"fold": ["Max", "Mean", "Min"], "as": ["series", "value"]}],
  "mark": {"type": "line", "strokeWidth": 2, "interpolate": "linear"},
  "encoding": {
    "x": {
      "field": "x", "type": "quantitative",
      "scale": {"domain": [0, 1200], "nice": false, "zero": false},
      "axis": {"title": "Rub length, m", "values": [0, 200, 400, 600, 800, 1000, 1200], "format": "d",
        "tickSize": -5, "labelPadding": 13, "labelFlush": false,
        "titleY": 48, "titleBaseline": "alphabetic"}
    },
    "y": {
      "field": "value", "type": "quantitative",
      "scale": {"domain": [-0.6, 0.6], "nice": false, "zero": false},
      "axis": {"title": "Length change / mm", "values": [-0.6, -0.4, -0.2, 0, 0.2, 0.4, 0.6],
        "tickSize": -5, "labelPadding": 13, "labelFlush": false,
        "labelExpr": "replace(format(datum.value, '.1~f'), '\u2212', '-')",
        "titleFontSize": 21,
        "titleX": -57, "titleY": 175, "titleBaseline": "middle", "titleAngle": -90, "titleAlign": "center"}
    },
    "color": {
      "field": "series", "type": "nominal",
      "scale": {"domain": ["Max", "Mean", "Min"], "range": ["#0000ff", "#ff0000", "#008000"]},
      "legend": {
        "title": null, "orient": "none", "legendX": 383, "legendY": 8,
        "symbolType": "M-1.5,0H1.5", "symbolSize": 400, "symbolStrokeWidth": 1.5, "symbolOffset": 4,
        "labelFont": "Liberation Serif", "labelFontSize": 21, "labelColor": "#000000",
        "strokeColor": "#8c8c8c", "fillColor": "white", "padding": 5, "rowPadding": 2,
        "labelOffset": 6
      }
    }
  }
}
